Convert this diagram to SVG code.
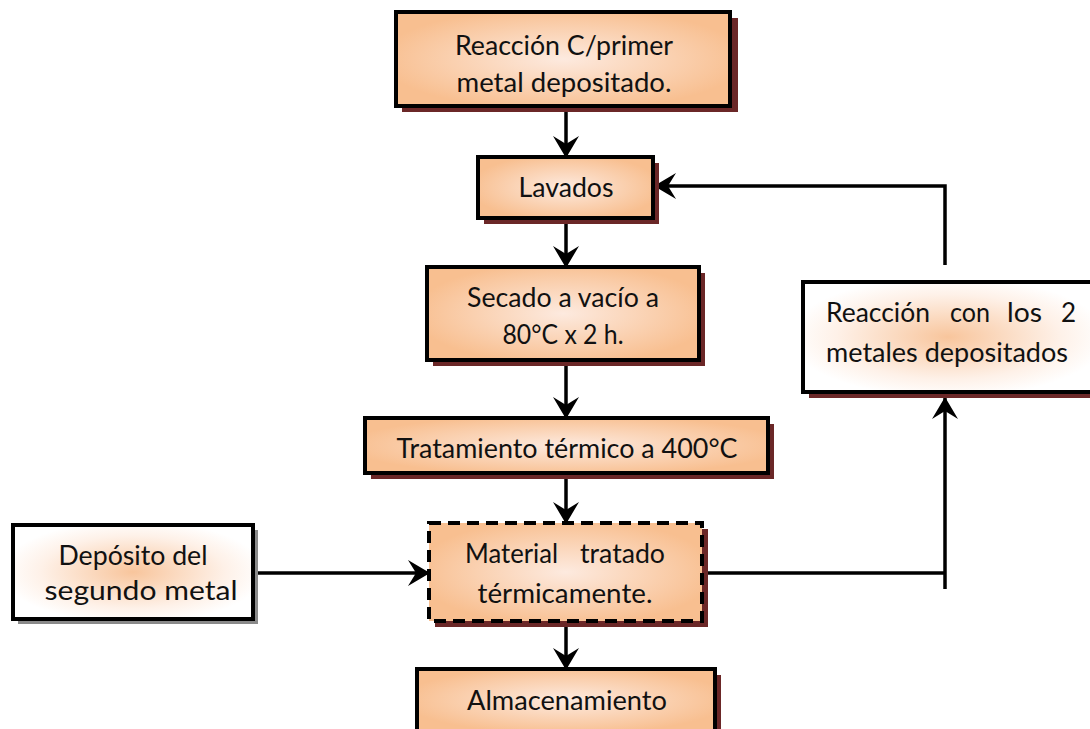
<svg xmlns="http://www.w3.org/2000/svg" width="1090" height="729" viewBox="0 0 1090 729">
<defs>
<radialGradient id="og" cx="0.5" cy="0.5" r="0.55">
<stop offset="0" stop-color="#fdeadf"/>
<stop offset="1" stop-color="#f8bf90"/>
</radialGradient>
<radialGradient id="wg" cx="0.5" cy="0.5" r="0.55">
<stop offset="0" stop-color="#f8c59c"/>
<stop offset="0.7" stop-color="#fef1e8"/>
<stop offset="1" stop-color="#ffffff"/>
</radialGradient>
<marker id="ah" viewBox="0 0 22 26" refX="21" refY="13" markerWidth="22" markerHeight="26" markerUnits="userSpaceOnUse" orient="auto">
<path d="M22,13 L0,0 L8,13 L0,26 Z" fill="#000"/>
</marker>
<style>
.box{stroke:#000;stroke-width:4}
.o{fill:url(#og)}
.w{fill:url(#wg)}
.sh{fill:#6b2727}
.shg{fill:#8a8a8a}
.t{font-family:Lato,"Open Sans","Liberation Sans",sans-serif;font-size:26px;fill:#111}
.c{stroke:#000;stroke-width:3.5;fill:none}
</style>
</defs>

<g id="connectors">
<line class="c" x1="566" y1="108" x2="566" y2="157" marker-end="url(#ah)"/>
<line class="c" x1="566" y1="220" x2="566" y2="267" marker-end="url(#ah)"/>
<line class="c" x1="566" y1="362" x2="566" y2="418" marker-end="url(#ah)"/>
<line class="c" x1="566" y1="475" x2="566" y2="523" marker-end="url(#ah)"/>
<line class="c" x1="566" y1="623" x2="566" y2="669" marker-end="url(#ah)"/>
<line class="c" x1="255" y1="573" x2="429" y2="573" marker-end="url(#ah)"/>
<line class="c" x1="702" y1="573" x2="945" y2="573"/>
<line class="c" x1="945" y1="589" x2="945" y2="398" marker-end="url(#ah)"/>
<polyline class="c" points="945,265 945,186 655,186" marker-end="url(#ah)"/>
</g>

<g id="n1">
<rect class="sh" x="402" y="18" width="336" height="94"/>
<rect class="box o" x="396" y="12" width="334" height="94"/>
<text class="t" x="564" y="55" text-anchor="middle" textLength="218" lengthAdjust="spacingAndGlyphs">Reacción C/primer</text>
<text class="t" x="564" y="92" text-anchor="middle" textLength="215" lengthAdjust="spacingAndGlyphs">metal depositado.</text>
</g>

<g id="n2">
<rect class="sh" x="484" y="163" width="175" height="61"/>
<rect class="box o" x="478" y="157" width="175" height="61"/>
<text class="t" x="566" y="197" text-anchor="middle" textLength="95" lengthAdjust="spacingAndGlyphs">Lavados</text>
</g>

<g id="n3">
<rect class="sh" x="433" y="273" width="272" height="93"/>
<rect class="box o" x="427" y="267" width="272" height="93"/>
<text class="t" x="563" y="307" text-anchor="middle" textLength="192" lengthAdjust="spacingAndGlyphs">Secado a vacío a</text>
<text class="t" x="563" y="344" text-anchor="middle" textLength="121" lengthAdjust="spacingAndGlyphs">80°C x 2 h.</text>
</g>

<g id="n4">
<rect class="sh" x="371" y="424" width="403" height="55"/>
<rect class="box o" x="365" y="418" width="403" height="55"/>
<text class="t" x="567" y="458" text-anchor="middle" textLength="341" lengthAdjust="spacingAndGlyphs">Tratamiento térmico a 400°C</text>
</g>

<g id="n5">
<rect class="sh" x="435" y="529" width="273" height="98"/>
<rect x="429" y="523" width="273" height="98" class="o" stroke="#000" stroke-width="4" stroke-dasharray="12,7"/>
<text class="t" y="563"><tspan x="465" textLength="93" lengthAdjust="spacingAndGlyphs">Material</tspan><tspan x="580" textLength="85" lengthAdjust="spacingAndGlyphs">tratado</tspan></text>
<text class="t" x="565" y="603" text-anchor="middle" textLength="175" lengthAdjust="spacingAndGlyphs">térmicamente.</text>
</g>

<g id="n6">
<rect class="sh" x="809" y="288" width="290" height="110"/>
<rect class="box w" x="803" y="282" width="290" height="110"/>
<text class="t" y="322"><tspan x="826" textLength="104" lengthAdjust="spacingAndGlyphs">Reacción</tspan><tspan x="950" textLength="40" lengthAdjust="spacingAndGlyphs">con</tspan><tspan x="1007" textLength="35" lengthAdjust="spacingAndGlyphs">los</tspan><tspan x="1061">2</tspan></text>
<text class="t" x="826" y="362" textLength="242" lengthAdjust="spacingAndGlyphs">metales depositados</text>
</g>

<g id="n7">
<rect class="shg" x="18" y="530" width="240" height="94"/>
<rect class="box w" x="13" y="525" width="240" height="94"/>
<text class="t" x="133" y="565" text-anchor="middle" textLength="149" lengthAdjust="spacingAndGlyphs">Depósito del</text>
<text class="t" x="141" y="600" text-anchor="middle" textLength="193" lengthAdjust="spacingAndGlyphs">segundo metal</text>
</g>

<g id="n8">
<rect class="sh" x="423" y="675" width="298" height="62"/>
<rect class="box o" x="417" y="669" width="298" height="62"/>
<text class="t" x="567" y="710" text-anchor="middle" textLength="200" lengthAdjust="spacingAndGlyphs">Almacenamiento</text>
</g>
</svg>
